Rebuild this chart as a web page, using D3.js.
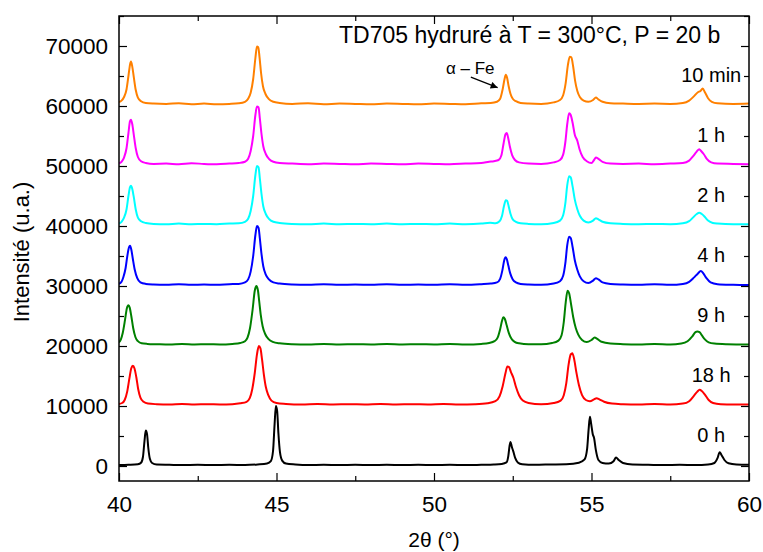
<!DOCTYPE html>
<html>
<head>
<meta charset="utf-8">
<script src="https://cdn.jsdelivr.net/npm/d3@7"></script>
<style>
  html, body { margin: 0; padding: 0; background: #fff; }
  svg { display: block; font-family: "Liberation Sans", Arial, Helvetica, sans-serif; }
</style>
</head>
<body>
<svg id="chart" width="763" height="552"></svg>
<script>
// ---------- DATA ----------
const seriesNames = ["10 min", "1 h", "2 h", "4 h", "9 h", "18 h", "0 h"];
const seriesColors = ["#FF8000", "#FF00FF", "#00FFFF", "#0000FF", "#008000", "#FF0000", "#000000"];
const seriesOffsets = [60000, 50000, 40000, 30000, 20000, 10000, 0];

const xTicks = [40, 45, 50, 55, 60];
const yTicks = [0, 10000, 20000, 30000, 40000, 50000, 60000, 70000];

const s10min = [
[40.00,60650],[40.08,60900],[40.16,61500],[40.24,62800],[40.30,65000],[40.35,66900],[40.38,67400],[40.42,66600],[40.47,64800],[40.53,62700],[40.60,61400],[40.70,60800],[40.85,60500],[41.1,60400],[41.5,60350],[41.9,60450],[42.3,60300],[42.7,60400],[43.1,60300],[43.5,60350],[43.8,60450],[44.0,60700],[44.1,61200],[44.18,62200],[44.26,64500],[44.33,68000],[44.38,69900],[44.42,69800],[44.46,68200],[44.51,65500],[44.57,63300],[44.65,62000],[44.75,61200],[44.9,60700],[45.1,60500],[45.5,60350],[46,60450],[46.5,60300],[47,60400],[47.5,60350],[48,60300],[48.5,60400],[49,60350],[49.5,60300],[50,60400],[50.5,60350],[51,60300],[51.5,60450],[51.8,60500],[52.0,60700],[52.1,61200],[52.18,62800],[52.24,64500],[52.28,65200],[52.32,64700],[52.37,63300],[52.43,62000],[52.5,61200],[52.6,60800],[52.75,60500],[53,60400],[53.4,60350],[53.8,60600],[54.0,61000],[54.1,61800],[54.18,63800],[54.25,66800],[54.31,68200],[54.36,68100],[54.42,66500],[54.48,64200],[54.55,62500],[54.63,61500],[54.75,60900],[54.9,60700],[55.05,61000],[55.14,61400],[55.22,61100],[55.35,60700],[55.6,60450],[56,60400],[56.5,60350],[57,60400],[57.5,60350],[57.9,60500],[58.1,60900],[58.25,61600],[58.38,62300],[58.46,62500],[58.53,62900],[58.6,62300],[58.7,61300],[58.82,60700],[59,60450],[59.5,60350],[60,60400]
];

const s1h = [
[40.00,50450],[40.08,50700],[40.16,51400],[40.24,53000],[40.30,55500],[40.35,57500],[40.38,57700],[40.42,57000],[40.47,55200],[40.53,53000],[40.60,51500],[40.70,50800],[40.85,50500],[41.1,50350],[41.5,50400],[41.9,50300],[42.3,50450],[42.7,50350],[43.1,50300],[43.5,50400],[43.8,50500],[44.0,50700],[44.1,51200],[44.18,52500],[44.26,55000],[44.33,58500],[44.38,59900],[44.43,59800],[44.47,58000],[44.52,55500],[44.58,53300],[44.66,52000],[44.76,51200],[44.9,50700],[45.1,50500],[45.5,50400],[46,50300],[46.5,50400],[47,50350],[47.5,50300],[48,50400],[48.5,50350],[49,50300],[49.5,50400],[50,50350],[50.5,50300],[51,50400],[51.5,50500],[51.75,50700],[51.9,50800],[52.05,51000],[52.14,51800],[52.21,53800],[52.27,55300],[52.31,55500],[52.35,54800],[52.41,53200],[52.48,51800],[52.57,51000],[52.7,50600],[53,50400],[53.4,50350],[53.8,50600],[54.0,51000],[54.1,51900],[54.17,54000],[54.23,57000],[54.29,58800],[54.34,58500],[54.4,57200],[54.47,55200],[54.55,54200],[54.62,52800],[54.72,51500],[54.85,50800],[55.0,50500],[55.08,51000],[55.14,51400],[55.22,51200],[55.35,50700],[55.6,50400],[56,50350],[56.5,50400],[57,50300],[57.5,50400],[57.9,50500],[58.1,50900],[58.22,51600],[58.34,52400],[58.42,52800],[58.48,52500],[58.56,52000],[58.66,51200],[58.8,50600],[59,50400],[59.5,50350],[60,50300]
];

const s2h = [
[40.00,40400],[40.08,40700],[40.16,41400],[40.24,42800],[40.30,45000],[40.35,46500],[40.38,46700],[40.42,46200],[40.47,44800],[40.53,42800],[40.60,41400],[40.70,40800],[40.85,40500],[41.1,40350],[41.5,40300],[41.9,40400],[42.3,40300],[42.7,40350],[43.1,40300],[43.5,40400],[43.8,40450],[44.0,40700],[44.1,41200],[44.18,42500],[44.26,45000],[44.33,48500],[44.38,50000],[44.43,49800],[44.47,48000],[44.52,45500],[44.58,43300],[44.66,42000],[44.76,41200],[44.9,40700],[45.1,40500],[45.5,40350],[46,40300],[46.5,40400],[47,40300],[47.5,40350],[48,40300],[48.5,40400],[49,40300],[49.5,40350],[50,40300],[50.5,40400],[51,40300],[51.5,40400],[51.78,40550],[51.95,40450],[52.08,40800],[52.16,41700],[52.22,43300],[52.28,44300],[52.32,44200],[52.37,43300],[52.43,42000],[52.5,41100],[52.6,40700],[52.75,40450],[53,40350],[53.4,40300],[53.8,40500],[54.0,40900],[54.1,41800],[54.17,43800],[54.23,46800],[54.29,48300],[54.34,48100],[54.4,46600],[54.47,44400],[54.55,42800],[54.63,41700],[54.75,40900],[54.9,40600],[55.05,40900],[55.14,41300],[55.22,41100],[55.35,40700],[55.6,40450],[56,40350],[56.5,40300],[57,40350],[57.5,40300],[57.9,40450],[58.1,40800],[58.22,41400],[58.34,42000],[58.42,42200],[58.5,42000],[58.6,41500],[58.7,40900],[58.85,40500],[59,40400],[59.5,40300],[60,40300]
];

const s4h = [
[40.00,30350],[40.08,30700],[40.14,31500],[40.21,33000],[40.27,35200],[40.32,36500],[40.35,36700],[40.39,36100],[40.44,34500],[40.5,32700],[40.58,31300],[40.68,30600],[40.85,30350],[41.1,30250],[41.5,30200],[41.9,30300],[42.3,30200],[42.7,30250],[43.1,30200],[43.5,30300],[43.8,30350],[44.0,30600],[44.1,31100],[44.18,32400],[44.26,35000],[44.33,38500],[44.38,40000],[44.43,39700],[44.47,38000],[44.52,35500],[44.58,33300],[44.66,31900],[44.76,31100],[44.9,30600],[45.1,30400],[45.5,30250],[46,30200],[46.5,30300],[47,30200],[47.5,30250],[48,30200],[48.5,30300],[49,30200],[49.5,30250],[50,30200],[50.5,30300],[51,30200],[51.5,30300],[51.8,30400],[52.0,30600],[52.1,31200],[52.17,32600],[52.23,34300],[52.27,34800],[52.31,34500],[52.36,33400],[52.42,32100],[52.5,31100],[52.6,30600],[52.75,30350],[53,30250],[53.4,30200],[53.8,30400],[54.0,30800],[54.1,31700],[54.17,33800],[54.23,36800],[54.29,38200],[54.34,38000],[54.4,36500],[54.47,34300],[54.55,32700],[54.63,31600],[54.75,30800],[54.9,30500],[55.05,30900],[55.14,31300],[55.22,31100],[55.35,30600],[55.6,30350],[56,30250],[56.5,30200],[57,30300],[57.5,30200],[57.9,30350],[58.1,30700],[58.25,31400],[58.38,32100],[58.47,32500],[58.55,32100],[58.65,31300],[58.78,30600],[59,30300],[59.5,30200],[60,30150]
];

const s9h = [
[40.00,20600],[40.06,21100],[40.12,22200],[40.19,24300],[40.25,26300],[40.3,26800],[40.34,26400],[40.39,25000],[40.45,23000],[40.52,21500],[40.6,20800],[40.72,20450],[40.9,20350],[41.2,20300],[41.6,20250],[42,20350],[42.4,20250],[42.8,20300],[43.2,20250],[43.6,20350],[43.85,20500],[44.0,20800],[44.08,21400],[44.16,23000],[44.24,26000],[44.31,29200],[44.36,30000],[44.41,29300],[44.45,27500],[44.5,25200],[44.56,23300],[44.64,22000],[44.74,21200],[44.88,20700],[45.1,20450],[45.5,20300],[46,20250],[46.5,20350],[47,20250],[47.5,20300],[48,20250],[48.5,20350],[49,20250],[49.5,20300],[50,20250],[50.5,20350],[51,20250],[51.5,20350],[51.75,20500],[51.92,20800],[52.02,21400],[52.1,22800],[52.16,24200],[52.2,24800],[52.25,24500],[52.31,23400],[52.38,22100],[52.46,21200],[52.56,20700],[52.7,20450],[53,20300],[53.4,20300],[53.75,20500],[53.95,20900],[54.05,21800],[54.12,24000],[54.18,27200],[54.24,29200],[54.29,28800],[54.35,27000],[54.42,24800],[54.5,23000],[54.58,21900],[54.7,21000],[54.85,20650],[55.0,21000],[55.1,21400],[55.18,21200],[55.32,20700],[55.6,20400],[56,20300],[56.5,20250],[57,20350],[57.5,20250],[57.85,20400],[58.05,20800],[58.2,21600],[58.3,22300],[58.36,22400],[58.43,22300],[58.5,21800],[58.6,21100],[58.72,20600],[58.9,20400],[59.3,20300],[60,20250]
];

const s18h = [
[40.00,10350],[40.1,10500],[40.18,11000],[40.26,12400],[40.33,14600],[40.39,16300],[40.44,16700],[40.49,16300],[40.55,14800],[40.61,12800],[40.68,11400],[40.78,10700],[40.92,10400],[41.2,10300],[41.6,10250],[42,10350],[42.4,10250],[42.8,10300],[43.2,10250],[43.6,10300],[43.85,10450],[44.05,10700],[44.15,11300],[44.23,12800],[44.31,15500],[44.38,18600],[44.44,20000],[44.49,19600],[44.54,17800],[44.6,15200],[44.66,13200],[44.74,11800],[44.84,10900],[45.0,10500],[45.3,10350],[45.8,10250],[46.3,10350],[46.8,10250],[47.3,10300],[47.8,10250],[48.3,10350],[48.8,10250],[49.3,10300],[49.8,10250],[50.3,10350],[50.8,10250],[51.3,10300],[51.7,10450],[51.95,10800],[52.08,11600],[52.18,13300],[52.27,15500],[52.33,16600],[52.38,16500],[52.44,15700],[52.52,14700],[52.6,13200],[52.7,11800],[52.82,10900],[53,10500],[53.4,10300],[53.8,10500],[54.02,10900],[54.12,11800],[54.2,13800],[54.27,16800],[54.34,18600],[54.39,18800],[54.45,17800],[54.52,15600],[54.6,13500],[54.7,11800],[54.82,11000],[54.95,10800],[55.08,11100],[55.16,11300],[55.25,11100],[55.4,10700],[55.65,10400],[56,10300],[56.5,10250],[57,10350],[57.5,10250],[57.9,10400],[58.1,10800],[58.25,11700],[58.36,12400],[58.43,12700],[58.5,12500],[58.6,11900],[58.72,11000],[58.86,10500],[59.1,10300],[59.5,10250],[60,10250]
];

const s0h = [
[40.00,150],[40.3,200],[40.6,300],[40.7,550],[40.76,1500],[40.81,4200],[40.85,5900],[40.89,5300],[40.93,3000],[40.98,1200],[41.05,500],[41.2,250],[41.6,200],[42,150],[42.5,200],[43,150],[43.5,200],[44,150],[44.4,250],[44.7,400],[44.82,800],[44.89,2500],[44.94,7000],[44.98,10000],[45.02,9200],[45.06,5500],[45.11,2300],[45.18,900],[45.3,400],[45.6,250],[46,150],[46.5,200],[47,150],[47.5,200],[48,150],[48.5,200],[49,150],[49.5,200],[50,150],[50.5,200],[51,150],[51.5,200],[51.9,250],[52.15,350],[52.3,600],[52.36,1700],[52.4,3400],[52.43,4000],[52.47,3200],[52.52,2400],[52.58,1300],[52.66,600],[52.8,300],[53.2,200],[53.7,250],[54.2,300],[54.6,550],[54.78,1100],[54.86,2800],[54.91,6200],[54.95,8200],[54.99,7000],[55.04,5300],[55.08,4700],[55.14,2600],[55.22,1000],[55.35,500],[55.55,400],[55.7,800],[55.78,1400],[55.86,1000],[56,500],[56.3,250],[56.8,200],[57.3,150],[57.8,200],[58.3,150],[58.7,250],[58.9,500],[59.0,1300],[59.07,2300],[59.13,1800],[59.22,1000],[59.35,450],[59.6,250],[60,200]
];

const seriesData = [s10min, s1h, s2h, s4h, s9h, s18h, s0h];

const titleText = "TD705 hydruré à T = 300°C, P = 20 b";
const xTitle = "2θ (°)";
const yTitle = "Intensité (u.a.)";
const annotText = "α – Fe";
const annotTextPos = [50.38, 65300];
const annotArrowFrom = [51.17, 64800];
const annotArrowTo = [52.02, 63050];

// ---------- LAYOUT ----------
const W = 763, H = 552;
const plot = { left: 119, right: 749, top: 16, bottom: 481 };

const x = d3.scaleLinear().domain([40, 60]).range([plot.left, plot.right]);
const y = d3.scaleLinear().domain([-2500, 75000]).range([plot.bottom, plot.top]);

const svg = d3.select("#chart");

const defs = svg.append("defs");
defs.append("clipPath").attr("id", "clip")
  .append("rect").attr("x", plot.left).attr("y", plot.top)
  .attr("width", plot.right - plot.left).attr("height", plot.bottom - plot.top);
defs.append("marker").attr("id", "arrow")
  .attr("viewBox", "0 0 10 10").attr("refX", 10).attr("refY", 5)
  .attr("markerWidth", 9).attr("markerHeight", 7).attr("markerUnits", "userSpaceOnUse")
  .attr("orient", "auto")
  .append("path").attr("d", "M0,0 L10,5 L0,10 z").attr("fill", "#000");

const line = d3.line().x(d => x(d[0])).y(d => y(d[1])).curve(d3.curveMonotoneX);
const g = svg.append("g").attr("clip-path", "url(#clip)");
seriesData.forEach((data, i) => {
  g.append("path").datum(data)
    .attr("d", line)
    .attr("fill", "none")
    .attr("stroke", seriesColors[i])
    .attr("stroke-width", 2)
    .attr("stroke-linejoin", "round");
});

const majorLen = 8, minorLen = 5;
const xMinor = d3.range(42.5, 60, 5);
const yMinor = d3.range(5000, 75001, 10000);

function styleAxis(sel) {
  sel.select(".domain").remove();
  sel.selectAll("line").attr("stroke", "#000").attr("stroke-width", 1.2);
  sel.selectAll("text").attr("fill", "#000").style("font-size", "22.5px")
     .style("font-family", '"Liberation Sans", Arial, sans-serif');
}

const axB = svg.append("g").attr("transform", `translate(0,${plot.bottom})`)
  .call(d3.axisBottom(x).tickValues(xTicks).tickFormat(d3.format("d")).tickSizeInner(-majorLen).tickSizeOuter(0).tickPadding(15));
styleAxis(axB);
axB.selectAll("text").attr("dy", "0.71em");
svg.append("g").attr("transform", `translate(0,${plot.bottom})`)
  .call(d3.axisBottom(x).tickValues(xMinor).tickFormat("").tickSizeInner(-minorLen).tickSizeOuter(0)).call(styleAxis);

svg.append("g").attr("transform", `translate(0,${plot.top})`)
  .call(d3.axisTop(x).tickValues(xTicks).tickFormat("").tickSizeInner(-majorLen).tickSizeOuter(0)).call(styleAxis);
svg.append("g").attr("transform", `translate(0,${plot.top})`)
  .call(d3.axisTop(x).tickValues(xMinor).tickFormat("").tickSizeInner(-minorLen).tickSizeOuter(0)).call(styleAxis);

const axL = svg.append("g").attr("transform", `translate(${plot.left},0)`)
  .call(d3.axisLeft(y).tickValues(yTicks).tickFormat(d3.format("d")).tickSizeInner(-majorLen).tickSizeOuter(0).tickPadding(11));
styleAxis(axL);
svg.append("g").attr("transform", `translate(${plot.left},0)`)
  .call(d3.axisLeft(y).tickValues(yMinor).tickFormat("").tickSizeInner(-minorLen).tickSizeOuter(0)).call(styleAxis);

svg.append("g").attr("transform", `translate(${plot.right},0)`)
  .call(d3.axisRight(y).tickValues(yTicks).tickFormat("").tickSizeInner(-majorLen).tickSizeOuter(0)).call(styleAxis);
svg.append("g").attr("transform", `translate(${plot.right},0)`)
  .call(d3.axisRight(y).tickValues(yMinor).tickFormat("").tickSizeInner(-minorLen).tickSizeOuter(0)).call(styleAxis);

svg.append("rect")
  .attr("x", plot.left).attr("y", plot.top)
  .attr("width", plot.right - plot.left).attr("height", plot.bottom - plot.top)
  .attr("fill", "none").attr("stroke", "#000").attr("stroke-width", 1.5);

seriesNames.forEach((name, i) => {
  svg.append("text")
    .attr("x", x(58.8))
    .attr("y", y(seriesOffsets[i] + 3950))
    .attr("text-anchor", "middle")
    .style("font-size", "20px")
    .attr("fill", "#000")
    .text(name);
});

svg.append("text")
  .attr("x", 339).attr("y", 43)
  .style("font-size", "23px")
  .attr("fill", "#000")
  .text(titleText);

svg.append("text")
  .attr("x", x(annotTextPos[0])).attr("y", y(annotTextPos[1]))
  .style("font-size", "17px").attr("fill", "#000")
  .text(annotText);
svg.append("line")
  .attr("x1", x(annotArrowFrom[0])).attr("y1", y(annotArrowFrom[1]))
  .attr("x2", x(annotArrowTo[0])).attr("y2", y(annotArrowTo[1]))
  .attr("stroke", "#000").attr("stroke-width", 1.3)
  .attr("marker-end", "url(#arrow)");

svg.append("text")
  .attr("x", (plot.left + plot.right) / 2).attr("y", 547)
  .attr("text-anchor", "middle")
  .style("font-size", "21px").attr("fill", "#000")
  .text(xTitle);

svg.append("text")
  .attr("transform", `translate(29,252) rotate(-90)`)
  .attr("text-anchor", "middle")
  .style("font-size", "22px").attr("fill", "#000")
  .text(yTitle);
</script>
</body>
</html>
